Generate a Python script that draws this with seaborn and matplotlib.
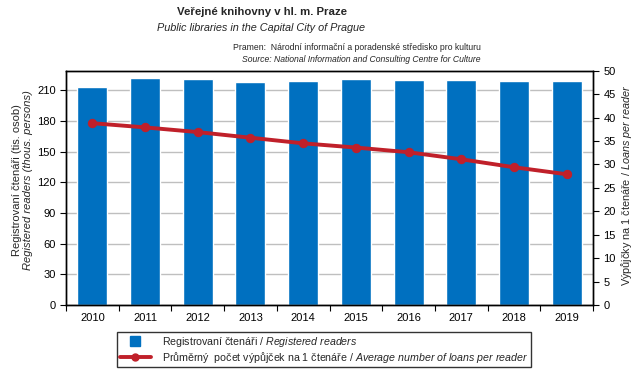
import numpy as np
import pandas as pd
import matplotlib
matplotlib.use("Agg")
import matplotlib.pyplot as plt
from matplotlib.lines import Line2D
import seaborn as sns

years = ["2010", "2011", "2012", "2013", "2014", "2015", "2016", "2017", "2018", "2019"]
readers = [213, 222, 221, 218, 219, 221, 220, 220, 219, 219]
loans = [38.8, 37.9, 36.9, 35.7, 34.5, 33.6, 32.6, 31.1, 29.4, 27.9]

sns.set_theme(style="white")
plt.rcParams["font.family"] = ["Liberation Sans", "DejaVu Sans"]
plt.rcParams["mathtext.fontset"] = "custom"
plt.rcParams["mathtext.rm"] = "Liberation Sans"
plt.rcParams["mathtext.it"] = "Liberation Sans:italic"

BLUE = "#0070C0"
RED = "#C0202A"
FS = 8

df = pd.DataFrame({"year": years, "readers": readers, "loans": loans, "pos": np.arange(len(years))})

fig = plt.figure(figsize=(6.43, 3.75), dpi=100)
ax = fig.add_axes([66/643, 1-305/375, (593-66)/643, (305-70.7)/375])
sns.barplot(data=df, x="year", y="readers", color=BLUE, width=0.57, saturation=1, ax=ax, zorder=2)
ax.set_xlim(-0.5, 9.5)
ax.set_ylim(0, 229)
ax.set_yticks(np.arange(0, 211, 30))
ax.yaxis.grid(True, color="#BFBFBF", linewidth=1, zorder=0)
ax.set_axisbelow(True)
ax.set_xlabel("")
ax.set_ylabel("")
ax.set_xticks(np.arange(len(years)))
ax.set_xticklabels(years)
ax.tick_params(axis="x", length=0, labelsize=FS, pad=6, colors="black")
ax.set_xticks(np.arange(-0.5, 10, 1), minor=True)
ax.tick_params(axis="x", which="minor", length=4, width=0.8, color="black", direction="out", bottom=True)
ax.tick_params(axis="y", length=4, width=0.8, labelsize=FS, direction="out", left=True, colors="black")
for s in ax.spines.values():
    s.set_color("black")
    s.set_linewidth(1)

ax2 = ax.twinx()
sns.lineplot(data=df, x="pos", y="loans", color=RED, linewidth=2.8, marker="o", markersize=6,
             markeredgecolor=RED, ax=ax2, zorder=5)
ax2.set_ylim(0, 50)
ax2.set_yticks(np.arange(0, 51, 5))
ax2.set_xlim(-0.5, 9.5)
ax2.set_xlabel("")
ax2.set_ylabel("")
ax2.tick_params(axis="y", length=4, width=0.8, labelsize=FS, direction="out", right=True, colors="black")
for s in ax2.spines.values():
    s.set_color("black")
    s.set_linewidth(1)

# axis labels
fig.text(17/643, 1-180/375, "Registrovaní čtenáři (tis. osob)", rotation=90, ha="center", va="center", fontsize=FS)
fig.text(28.5/643, 1-180/375, "Registered readers (thous. persons)", rotation=90, ha="center", va="center",
         fontsize=FS, style="italic")
fig.text(627/643, 1-185/375, r"Výpůjčky na 1 čtenáře / $\mathit{Loans\ per\ reader}$", rotation=90,
         ha="center", va="center", fontsize=7.8)

# titles
fig.text(262/643, 1-12/375, "Veřejné knihovny v hl. m. Praze", ha="center", va="center", fontsize=8.2, weight="bold")
fig.text(261/643, 1-28/375, "Public libraries in the Capital City of Prague", ha="center", va="center",
         fontsize=7.8, style="italic")
fig.text(481/643, 1-47/375, "Pramen:  Národní informační a poradenské středisko pro kulturu", ha="right",
         va="center", fontsize=6.2)
fig.text(481/643, 1-60/375, "Source: National Information and Consulting Centre for Culture", ha="right",
         va="center", fontsize=6.2, style="italic")

handles = [
    Line2D([], [], linestyle="none", marker="s", markersize=7, color=BLUE),
    Line2D([], [], color=RED, linewidth=2.8, marker="o", markersize=5),
]
labels = [
    r"Registrovaní čtenáři / $\mathit{Registered\ readers}$",
    r"Průměrný  počet výpůjček na 1 čtenáře / $\mathit{Average\ number\ of\ loans\ per\ reader}$",
]
leg = fig.legend(handles, labels, loc="upper left", bbox_to_anchor=(117/643, 1-332/375), fontsize=7.7,
                 frameon=True, fancybox=False, edgecolor="black", borderpad=0.25, labelspacing=0.1,
                 handlelength=2.9, handletextpad=1.1, borderaxespad=0)
leg.get_frame().set_linewidth(1)

fig.savefig("out.png", dpi=100)
